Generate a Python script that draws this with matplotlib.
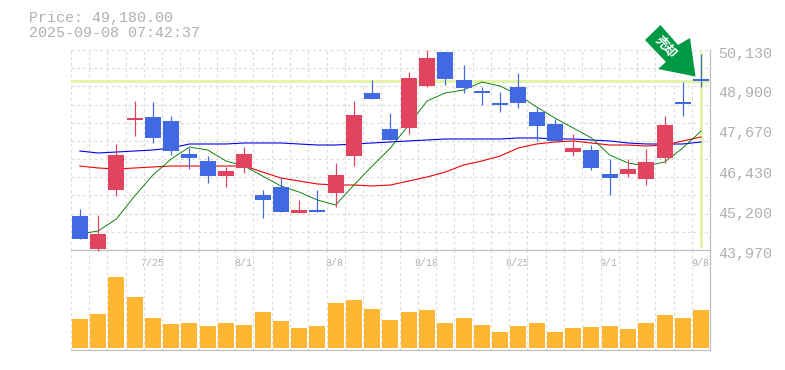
import matplotlib
matplotlib.use("Agg")
import matplotlib.pyplot as plt
from matplotlib.patches import Polygon
from matplotlib.transforms import Affine2D

W, H = 785, 370
title_price = "Price: 49,180.00"
title_time = "2025-09-08 07:42:37"
badge_text = "\u58f2\u5374"
current_price = 49180
y_ticks = [50130, 48900, 47670, 46430, 45200, 43970]
x_tick_idx = [4, 9, 14, 19, 24, 29, 34]
x_tick_labels = ["7/25", "8/1", "8/8", "8/18", "8/25", "9/1", "9/8"]

opens = [45017, 44001, 45818, 48014, 48066, 47943, 46927, 46711, 46249, 46496,
         45664, 45910, 45110, 45202, 45726, 46865, 48806, 47697, 47728, 49021,
         50068, 49206, 48867, 48528, 48990, 48220, 47851, 46988, 47050, 46311,
         46311, 46157, 46804, 48528, 49237]
closes = [44309, 44463, 46896, 48014, 47420, 47019, 46804, 46249, 46403, 46927,
          45510, 45140, 45202, 45140, 46280, 48128, 48621, 47358, 49268, 49884,
          49237, 48960, 48806, 48436, 48498, 47789, 47327, 47112, 46496, 46188,
          46465, 46680, 47820, 48467, 49175]
highs = [45233, 45048, 47235, 48559, 48528, 48097, 47112, 46865, 46526, 47142,
         45818, 46188, 45510, 45818, 46650, 48559, 49206, 48190, 49452, 50130,
         50068, 49668, 48990, 48836, 49422, 48344, 48005, 47543, 47204, 46773,
         46773, 47081, 48097, 49144, 50007]
lows = [44309, 43948, 45633, 47481, 47275, 46896, 46465, 46034, 45910, 46342,
        44956, 45140, 45110, 45140, 45305, 46557, 48621, 47358, 47543, 48990,
        49052, 48806, 48436, 48220, 48344, 47327, 47327, 46865, 46434, 45664,
        46218, 45972, 46650, 48097, 48990]
ma_short = [44463, 44556, 44926, 45633, 46280, 46773, 47142, 47050, 46711, 46557,
            46249, 45941, 45756, 45510, 45356, 45972, 46557, 47112, 47820, 48560,
            48806, 48898, 49144, 49021, 48744, 48374, 48035, 47728, 47420, 46896,
            46650, 46557, 46680, 47112, 47635]
ma_mid = [46557, 46496, 46465, 46496, 46527, 46557, 46557, 46557, 46557, 46557,
          46372, 46188, 46095, 46003, 45972, 45972, 45941, 45972, 46095, 46218,
          46372, 46588, 46711, 46865, 47112, 47235, 47297, 47328, 47266, 47204,
          47204, 47173, 47204, 47328, 47451]
ma_long = [47019, 46958, 46988, 47019, 47050, 47112, 47235, 47235, 47235, 47266,
           47266, 47266, 47235, 47204, 47204, 47235, 47266, 47297, 47328, 47358,
           47389, 47389, 47389, 47389, 47420, 47420, 47389, 47389, 47358, 47328,
           47266, 47235, 47235, 47235, 47297]
volumes = [29, 34, 71, 51, 30, 24, 25, 22, 25, 23, 36, 27, 20, 22, 45, 48, 39, 28,
           36, 38, 25, 30, 23, 16, 22, 25, 16, 20, 21, 22, 19, 25, 33, 30, 38]

RED, BLUE = "#e2435f", "#4169e1"
GRID, AXIS, TEXT = "#dcdcdc", "#bdbdbd", "#b0b0b0"
HILITE = "#e3f5a9"
mono = "Liberation Mono"

fig = plt.figure(figsize=(W / 100, H / 100), dpi=100, facecolor="white")
def axes_px(x0, y0, x1, y1):
    return fig.add_axes([x0 / W, 1 - y1 / H, (x1 - x0) / W, (y1 - y0) / H])

ax = axes_px(70.7, 50, 710.2, 250)
vx = axes_px(70.7, 250, 710.2, 350)
n = len(opens)
xs = [i + 0.5 for i in range(n)]
BW = 16 / (640 / n)
PX = 0.72  # one pixel in points

for a in (ax, vx):
    a.set_xlim(0, n)
    a.set_xticks([])
    a.set_yticks([])
    a.patch.set_alpha(0)
    for s in a.spines.values():
        s.set_visible(False)
    for k in range(n + 1):
        a.axvline(k, color=GRID, lw=1.2 * PX, ls=(0, (2.4, 2.4)), zorder=1)
    a.spines["bottom"].set_visible(True)
    a.spines["right"].set_visible(True)
    a.spines["bottom"].set_color(AXIS)
    a.spines["right"].set_color(AXIS)
    a.spines["bottom"].set_linewidth(1.2 * PX)
    a.spines["right"].set_linewidth(1.2 * PX)

ax.set_ylim(y_ticks[-1], y_ticks[0])
vx.set_ylim(-2, 98)

# horizontal grid: 11 equal divisions of the price range
for k in range(12):
    v = y_ticks[-1] + (y_ticks[0] - y_ticks[-1]) * k / 11
    ax.axhline(v, color=GRID, lw=1.2 * PX, ls=(0, (2.4, 2.4)), zorder=1)

ax.axhline(current_price, color=HILITE, lw=3 * PX, zorder=2)
ax.plot([xs[-1], xs[-1]], [y_ticks[0] - 30, y_ticks[-1] + 50], color=HILITE, lw=3 * PX,
        solid_capstyle="butt", zorder=2)

# moving averages sit under the candles
ax.plot(xs, ma_long, color="#0000ee", lw=1.1 * PX, zorder=3)
ax.plot(xs, ma_mid, color="#ee0000", lw=1.1 * PX, zorder=3)
ax.plot(xs, ma_short, color="#007a00", lw=0.9 * PX, zorder=3)

for x, o, c, h, l in zip(xs, opens, closes, highs, lows):
    col = RED if c >= o else BLUE
    top, bot = max(o, c), min(o, c)
    ax.plot([x, x], [l, h], color=col, lw=1.2 * PX, solid_capstyle="butt", zorder=4, clip_on=False)
    if top - bot < 100:
        mid = (top + bot) / 2
        top, bot = mid + 31, mid - 31
    ax.bar(x, top - bot, bottom=bot, width=BW, color=col, lw=0, zorder=4)

vx.bar(xs, volumes, width=BW, color="#ffb733", lw=0, zorder=3)

# labels
for v in y_ticks:
    ax.annotate(f"{v:,}", (1, v), xycoords=("axes fraction", "data"), xytext=(8 * PX, -3.5 * PX),
                textcoords="offset points", ha="left", va="center", color=TEXT,
                family=mono, fontsize=15 * PX, annotation_clip=False)
for i, lab in zip(x_tick_idx, x_tick_labels):
    ax.annotate(lab, (xs[i], 0), xycoords=("data", "axes fraction"), xytext=(-1 * PX, -12.5 * PX),
                textcoords="offset points", ha="center", va="center", color=TEXT,
                family=mono, fontsize=10 * PX, annotation_clip=False)

fig.text(29 / W, 1 - 18 / H, title_price, color=TEXT, family=mono, fontsize=15 * PX, ha="left", va="center")
fig.text(29 / W, 1 - 33 / H, title_time, color=TEXT, family=mono, fontsize=15 * PX, ha="left", va="center")

# badge arrow, in figure pixels
px = Affine2D().scale(1 / W, -1 / H).translate(0, 1) + fig.transFigure
arrow = [(660.5, 25), (645, 40), (666, 62), (658, 69), (695.5, 76.5), (690, 38), (678, 45)]
fig.add_artist(Polygon(arrow, closed=True, transform=px, fc="#009944", ec="none", zorder=6))
fig.text(665.5 / W, 1 - 47 / H, badge_text, color="white", rotation=-48, rotation_mode="anchor",
         ha="center", va="center", fontsize=12.5 * PX, fontweight="bold",
         family=["Noto Sans CJK JP", "DejaVu Sans"], zorder=7)

fig.savefig("out.png", dpi=100, facecolor="white")
